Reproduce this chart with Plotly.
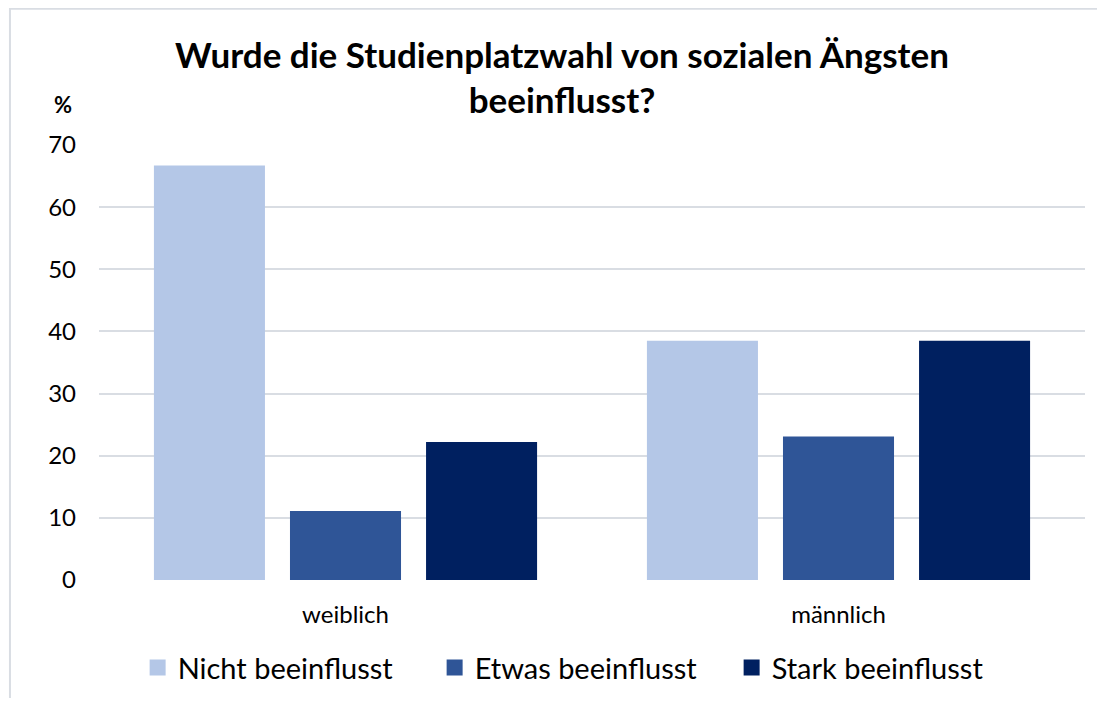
import plotly.graph_objects as go

categories = ["weiblich", "männlich"]
series_names = ["Nicht beeinflusst", "Etwas beeinflusst", "Stark beeinflusst"]
nicht = [66.7, 38.5]
etwas = [11.1, 23.1]
stark = [22.2, 38.5]
colors = ["#B4C7E7", "#2F5597", "#002060"]
y_ticks = [0, 10, 20, 30, 40, 50, 60, 70]

FONT = "Lato"
fig = go.Figure()
for name, vals, col in zip(series_names, [nicht, etwas, stark], colors):
    fig.add_trace(go.Bar(x=categories, y=vals, name=name, marker_color=col,
                         marker_line_width=0, showlegend=False))
for name, col in zip(series_names, colors):
    fig.add_trace(go.Scatter(x=[None], y=[None], mode="markers", name=name,
                             marker=dict(symbol="square", size=16, color=col)))

fig.update_layout(
    width=1089, height=690,
    margin=dict(l=91, r=12, t=137, b=118, autoexpand=False),
    paper_bgcolor="white", plot_bgcolor="white",
    barmode="group", bargap=0.172, bargroupgap=0.184,
    font=dict(family=FONT, color="#000000"),
    title=dict(text="<b>Wurde die Studienplatzwahl von sozialen Ängsten<br>beeinflusst?</b>",
               x=554 / 1089, xanchor="center", y=1 - 59.6 / 690, yanchor="top", yref="container",
               font=dict(size=35, family=FONT, color="#000000")),
    yaxis=dict(range=[0, 70], tickvals=y_ticks, showgrid=True, gridcolor="#D9DDE3",
               gridwidth=2, zeroline=False, showline=False, ticks="",
               tickfont=dict(size=24, family=FONT), ticklabelstandoff=22),
    xaxis=dict(showline=False, showgrid=False, ticks="", tickfont=dict(size=24, family=FONT),
               ticklabelstandoff=18),
    legend=dict(orientation="h", x=0.491, xanchor="center", y=-0.143, yanchor="top",
                font=dict(size=29, family=FONT), itemwidth=30, tracegroupgap=0,
                entrywidth=252),
    shapes=[dict(type="rect", xref="paper", yref="paper", x0=-0.0903, x1=1.1,
                 y0=-0.5, y1=1.313, line=dict(color="#D9DDE3", width=2), layer="below")],
    annotations=[dict(text="<b>%</b>", xref="paper", yref="paper", x=-0.0476, y=1.129,
                      showarrow=False, font=dict(size=22, family=FONT))],
)
fig.write_html("out.html")
